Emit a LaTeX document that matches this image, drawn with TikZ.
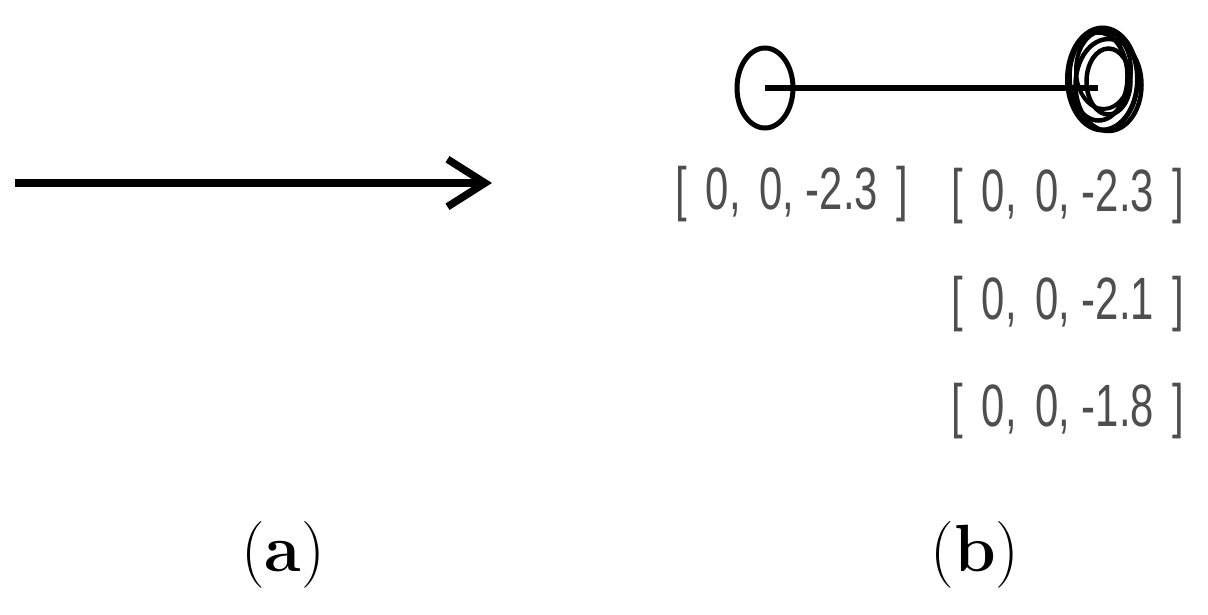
\documentclass[tikz,border=0pt]{standalone}
\usepackage{fontspec}
\usepackage{tikz}
\usetikzlibrary{arrows.meta,shapes.geometric}
\newfontfamily\labelfont{Liberation Sans}
\definecolor{vv}{RGB}{78, 78, 78}
\def\rx{0.56cm}
\def\ry{0.8cm}
\newcommand{\vecnode}[4]{\node[color=vv,font=\labelfont\fontsize{34}{36}\selectfont,xscale=0.7,inner sep=0cm] (#3) at (#1,#2) {[\;\,0,\;\,0,\;-#4\;\,]};}

\begin{document}
\begin{tikzpicture}
				\useasboundingbox (0,0) rectangle (24.16,-12.3);
				\coordinate (s) at (0.3,-3.66);
				\coordinate (t) at (9.84,-3.66);
				\draw[-{Straight Barb[length=0.75cm,width=0.95cm,line width=0.15cm]},line width=0.15cm] (s) -- (t);

				\node[draw,ellipse,line width=0.1cm,minimum width=2*\rx,minimum height=2*\ry,inner sep=0cm] (P) at (15.3,-1.76) {};
				\node[ellipse,minimum width=1.5cm,minimum height=2.1cm,inner sep=0cm] (Q) at (22.05,-1.58) {};
				\draw[line width=0.1cm] (Q) ellipse [x radius=0.7cm,y radius=1.02cm];
				\draw[line width=0.09cm] ([xshift=0.12cm,yshift=-0.12cm]Q.center) ellipse [x radius=0.66cm,y radius=0.92cm];
				\draw[line width=0.09cm] ([xshift=-0.08cm,yshift=0.05cm]Q.center) ellipse [x radius=0.58cm,y radius=0.88cm];
				\draw[line width=0.09cm] ([xshift=0.12cm,yshift=-0.05cm]Q.center) ellipse [x radius=0.44cm,y radius=0.66cm];
				\draw[line width=0.08cm] ([xshift=0.02cm,yshift=0.18cm]Q.center) ellipse [x radius=0.55cm,y radius=0.78cm];

				\draw[line width=0.13cm] (P.center) -- ([xshift=-0.1cm,yshift=-0.18cm]Q.center);

				\vecnode{15.84}{-3.88}{L1}{2.3}
				\vecnode{21.36}{-3.92}{R1}{2.3}
				\vecnode{21.36}{-6.08}{R2}{2.1}
				\vecnode{21.36}{-8.22}{R3}{1.8}

				\node[font=\fontsize{38}{40}\selectfont] (a) at (5.66,-11.1) {(\textbf{a})};
				\node[font=\fontsize{38}{40}\selectfont] (b) at (19.5,-11.1) {(\textbf{b})};
			\end{tikzpicture}
\end{document}
